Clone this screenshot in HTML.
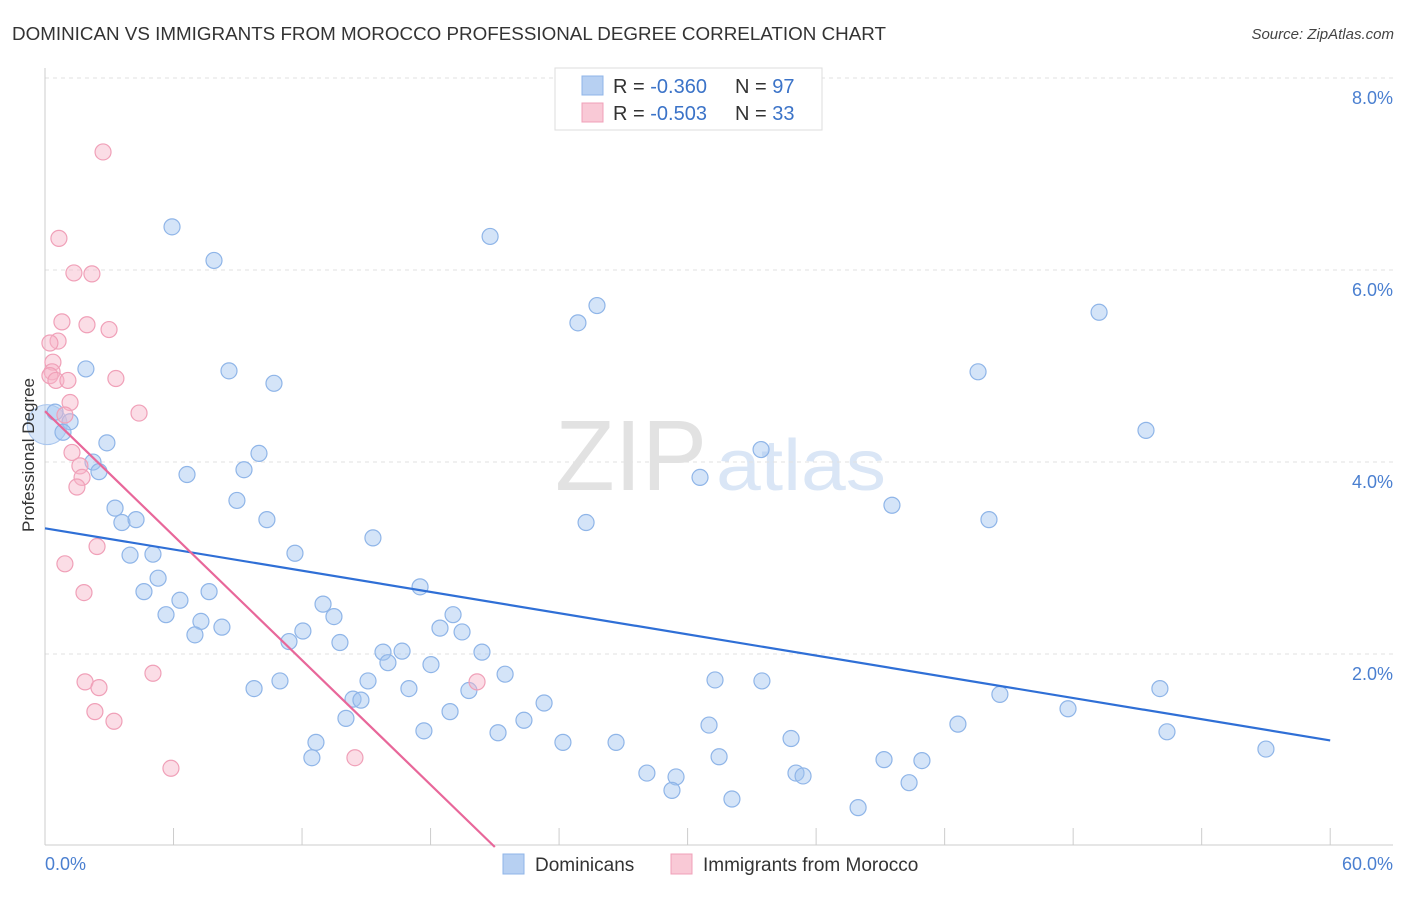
<!DOCTYPE html>
<html><head><meta charset="utf-8"><style>
body{margin:0;background:#fff;font-family:"Liberation Sans",sans-serif;}
svg text{font-family:"Liberation Sans",sans-serif;}
</style></head><body>
<svg id="chart" width="1406" height="892" xmlns="http://www.w3.org/2000/svg">
<text x="12" y="40" font-size="18" fill="#333" textLength="874" lengthAdjust="spacingAndGlyphs">DOMINICAN VS IMMIGRANTS FROM MOROCCO PROFESSIONAL DEGREE CORRELATION CHART</text>
<text x="1394" y="39" font-size="15" fill="#444" font-style="italic" text-anchor="end">Source: ZipAtlas.com</text>
<g>
<text x="555" y="490" font-size="100" fill="#e2e2e2" font-family="Liberation Serif" textLength="152" lengthAdjust="spacingAndGlyphs">ZIP</text>
<text x="716" y="490" font-size="72" fill="#dae6f6" textLength="170" lengthAdjust="spacingAndGlyphs">atlas</text>
</g>
<g id="grid"></g>
<g id="axes"></g>
<g id="pts"></g>
<g id="trends"></g>
<text transform="translate(34,455) rotate(-90)" font-size="17" fill="#333" text-anchor="middle">Professional Degree</text>
<text x="45" y="870" font-size="18" fill="#4a7fd0">0.0%</text>
<text x="1393" y="870" font-size="18" fill="#4a7fd0" text-anchor="end">60.0%</text>
<g>
<rect x="555" y="68" width="267" height="62" fill="#fff" stroke="#ddd"/>
<rect x="582" y="76" width="21" height="19" fill="#b7d0f2" stroke="#8fb5e8"/>
<rect x="582" y="103" width="21" height="19" fill="#f9c9d6" stroke="#f0a0b8"/>
<text x="613" y="93" font-size="20" fill="#333">R = <tspan fill="#3b73c8">-0.360</tspan></text>
<text x="735" y="93" font-size="20" fill="#333">N = <tspan fill="#3b73c8">97</tspan></text>
<text x="613" y="120" font-size="20" fill="#333">R = <tspan fill="#3b73c8">-0.503</tspan></text>
<text x="735" y="120" font-size="20" fill="#333">N = <tspan fill="#3b73c8">33</tspan></text>
</g>
<g>
<rect x="503" y="854" width="21" height="20" fill="#b7d0f2" stroke="#8fb5e8"/>
<text x="535" y="871" font-size="19" fill="#333">Dominicans</text>
<rect x="671" y="854" width="21" height="20" fill="#f9c9d6" stroke="#f0a0b8"/>
<text x="703" y="871" font-size="19" fill="#333">Immigrants from Morocco</text>
</g>
</svg>
<script>
const blueX=[5.93,7.89,20.78,25.77,24.88,49.21,1.91,8.59,10.69,43.56,51.40,0.47,1.17,0.84,2.89,9.99,33.43,2.24,2.52,6.63,9.29,30.58,8.96,3.27,39.54,3.59,4.25,10.36,25.26,44.07,15.31,3.97,5.04,11.67,5.28,17.51,4.62,7.66,6.30,12.98,5.65,13.49,7.28,19.05,8.26,18.44,19.47,7.00,12.04,11.39,13.77,15.78,16.67,20.40,16.01,18.02,21.48,10.97,15.08,9.76,16.99,31.28,33.47,52.05,19.79,44.58,14.38,14.75,23.30,47.76,18.91,14.05,22.36,31.00,42.62,17.69,21.15,52.38,12.65,24.18,26.66,34.83,57.00,12.46,31.47,39.17,40.94,28.10,29.46,35.06,35.39,40.34,29.27,32.07,37.96];
const blueY=[6.46,6.11,6.36,5.64,5.46,5.57,4.98,4.96,4.83,4.95,4.34,4.53,4.43,4.32,4.21,4.10,4.14,4.01,3.91,3.88,3.93,3.85,3.61,3.53,3.56,3.38,3.41,3.41,3.38,3.41,3.22,3.04,3.05,3.06,2.80,2.71,2.66,2.66,2.57,2.53,2.42,2.40,2.35,2.42,2.29,2.28,2.24,2.21,2.25,2.14,2.13,2.03,2.04,2.03,1.92,1.90,1.80,1.73,1.73,1.65,1.65,1.74,1.73,1.65,1.63,1.59,1.54,1.53,1.50,1.44,1.41,1.34,1.32,1.27,1.28,1.21,1.19,1.20,1.09,1.09,1.09,1.13,1.02,0.93,0.94,0.91,0.90,0.77,0.73,0.77,0.74,0.67,0.59,0.50,0.41];
const pinkX=[2.71,0.65,1.35,2.19,0.79,1.96,2.99,0.61,0.23,0.37,0.33,0.23,0.51,1.07,3.31,1.17,4.39,0.93,1.26,1.63,1.73,1.49,2.43,0.93,1.82,5.04,1.87,2.52,2.33,3.22,14.47,5.88,20.17];
const pinkY=[7.24,6.34,5.98,5.97,5.47,5.44,5.39,5.27,5.25,5.05,4.95,4.91,4.86,4.86,4.88,4.63,4.52,4.50,4.11,3.97,3.85,3.75,3.13,2.95,2.65,1.81,1.72,1.66,1.41,1.31,0.93,0.82,1.72];
const blueTrendX=[0,60], blueTrendY=[3.32,1.11];
const pinkTrendX=[0,21.0], pinkTrendY=[4.54,0];
const yTicks=[2,4,6,8];
const yTickLabels=["2.0%","4.0%","6.0%","8.0%"];
const xTicks=[0,6,12,18,24,30,36,42,48,54,60];
const NS="http://www.w3.org/2000/svg";
const sx=v=>45+v*21.42, sy=v=>847-v*96;
function mk(tag,attrs,parent){const e=document.createElementNS(NS,tag);for(const k in attrs)e.setAttribute(k,attrs[k]);document.getElementById(parent).appendChild(e);return e;}
yTicks.forEach((t,i)=>{
  const l=mk('line',{x1:45,x2:1393,y1:sy(t)-1,y2:sy(t)-1,stroke:'#e2e2e2','stroke-dasharray':'4,4'},'grid');
  
  
  const tx=mk('text',{x:1393,y:sy(t)+25,'font-size':18,fill:'#4a7fd0','text-anchor':'end'},'grid');
  tx.textContent=yTickLabels[i];
  
  
});
mk('line',{x1:45,x2:1393,y1:845,y2:845,stroke:'#ccc'},'axes');
mk('line',{x1:45,x2:45,y1:68,y2:845,stroke:'#ccc'},'axes');
xTicks.forEach(t=>{
  const l=mk('line',{x1:sx(t),x2:sx(t),y1:828,y2:845,stroke:'#ccc'},'axes');
  
  
});
const big=mk('circle',{cx:sx(0.1),cy:sy(4.4),r:20,fill:'rgba(160,196,240,0.4)',stroke:'#a9c6ee'},'pts');


blueX.forEach((x,i)=>{
  const c=mk('circle',{cx:sx(x),cy:sy(blueY[i]),r:8,fill:'rgba(160,196,240,0.45)',stroke:'#8fb5e8','stroke-width':1.2},'pts');
  
  
});
pinkX.forEach((x,i)=>{
  const c=mk('circle',{cx:sx(x),cy:sy(pinkY[i]),r:8,fill:'rgba(246,180,200,0.45)',stroke:'#f0a0b8','stroke-width':1.2},'pts');
  
  
});
const bl=mk('line',{x1:sx(blueTrendX[0]),y1:sy(blueTrendY[0]),x2:sx(blueTrendX[1]),y2:sy(blueTrendY[1]),stroke:'#2f6fd6','stroke-width':2.2},'trends');


const pl=mk('line',{x1:sx(pinkTrendX[0]),y1:sy(pinkTrendY[0]),x2:sx(pinkTrendX[1]),y2:sy(pinkTrendY[1]),stroke:'#e8679a','stroke-width':2.2},'trends');


</script>
</body></html>
